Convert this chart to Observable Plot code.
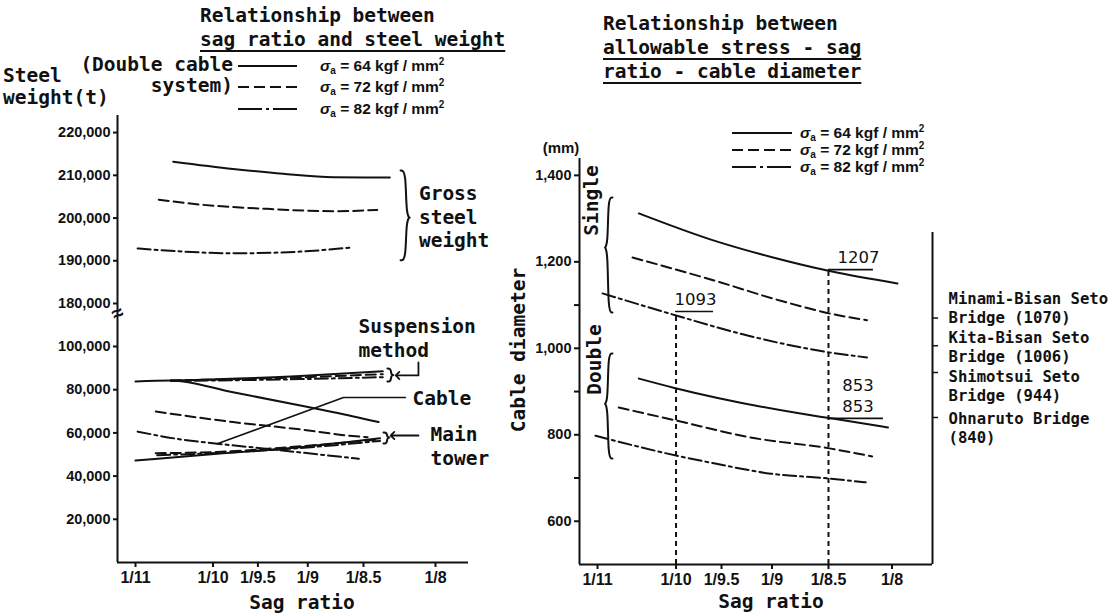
<!DOCTYPE html>
<html><head><meta charset="utf-8">
<script src="https://cdn.jsdelivr.net/npm/d3@7"></script>
<script src="https://cdn.jsdelivr.net/npm/@observablehq/plot@0.6"></script>
<style>
html,body{margin:0;padding:0;background:#fff;}
#root{position:relative;width:1116px;height:614px;overflow:hidden;background:#fff;color:#111;}
.abs{position:absolute;white-space:pre;}
.mono{font-family:"DejaVu Sans Mono",monospace;font-size:19.5px;font-weight:bold;line-height:24px;}
.sans{font-family:"Liberation Sans",Arial,sans-serif;font-weight:bold;font-size:15px;line-height:20px;}
.leg{font-family:"Liberation Sans",Arial,sans-serif;font-weight:bold;font-size:15.5px;line-height:20px;}
.leg sub{font-size:10px;vertical-align:-3px;line-height:0;}
.leg sup{font-size:10px;vertical-align:6px;line-height:0;}
.u{text-decoration:underline;text-decoration-thickness:2px;text-underline-offset:4px;}
</style></head>
<body><div id="root"></div>
<script>
// ---------- data ----------
const sagTicks = [11, 10, 9.5, 9, 8.5, 8];
const sagTickLabels = ["1/11", "1/10", "1/9.5", "1/9", "1/8.5", "1/8"];
const stressLevels = ["64", "72", "82"];           // allowable stress, kgf/mm²
const weightTicks = [20000, 40000, 60000, 80000, 100000, 180000, 190000, 200000, 210000, 220000];
const diameterTicks = [600, 800, 1000, 1200, 1400];
const diameterMinorTicks = [700, 900, 1100];

// Left panel: [sag ratio denominator, steel weight (t)]
const gross64 = [[10.49, 213200], [9.77, 211500], [9.24, 210350], [8.76, 209550], [8.31, 209500]];
const gross72 = [[10.68, 204300], [10.15, 203150], [9.40, 202150], [8.76, 201600], [8.40, 201900]];
const gross82 = [[10.97, 192900], [10.36, 192150], [9.77, 191750], [9.07, 192150], [8.59, 193150]];
const susp64 = [[10.52, 84300], [9.07, 86300], [8.36, 88500]];
const susp72 = [[10.52, 84300], [9.07, 85700], [8.36, 87200]];
const susp82 = [[10.52, 84000], [9.07, 84900], [8.36, 85800]];
const cable64 = [[11.0, 83800], [10.52, 84300], [9.77, 78800], [9.07, 72700], [8.76, 69600], [8.39, 65000]];
const cable72 = [[10.72, 69900], [9.77, 65000], [9.07, 61600], [8.64, 58800], [8.47, 58000]];
const cable82 = [[10.97, 60600], [10.36, 56800], [9.95, 55000], [9.40, 52600], [8.54, 48000]];
const tower64 = [[11.0, 47200], [9.95, 50300], [9.07, 53400], [8.38, 57500]];
const tower72 = [[10.72, 50600], [9.95, 51200], [9.07, 53800], [8.38, 57000]];
const tower82 = [[10.70, 49700], [9.95, 50700], [9.07, 53000], [8.38, 56300]];

// Right panel: [sag ratio denominator, cable diameter (mm)]
const single64 = [[10.45, 1312], [9.62, 1252], [8.99, 1210], [8.48, 1178], [7.96, 1150]];
const single72 = [[10.53, 1210], [9.58, 1157], [8.92, 1110], [8.48, 1080], [8.19, 1065]];
const single82 = [[10.93, 1127], [10.0, 1076], [9.31, 1034], [8.48, 990], [8.19, 979]];
const double64 = [[10.45, 930], [10.03, 909], [8.74, 849], [8.48, 838], [8.03, 817]];
const double72 = [[10.71, 863], [10.0, 833], [9.21, 794], [8.48, 768], [8.15, 750]];
const double82 = [[11.03, 798], [10.0, 752], [9.58, 734], [9.01, 710], [8.5, 699], [8.20, 690]];

const bridgeNames = ["Minami-Bisan Seto\nBridge (1070)", "Kita-Bisan Seto\nBridge (1006)", "Shimotsui Seto\nBridge (944)", "Ohnaruto Bridge\n(840)"];
const bridgeDiameters = [1070, 1006, 944, 840];
const refSag = [10, 8.5];
const refTop = [1085, 1182];
const refLabels = ["1093", "1207", "853", "853"];

// ---------- helpers ----------
const inv = n => 1 / n;
const dashes = {"64": null, "72": "10,5", "82": "13,4,3,4"};
const INK = "#111";
function rows(arr, group, stress) { return arr.map(([sag, value]) => ({group, stress, sag, value})); }
function sagLabel(v) {
  let best = 0;
  sagTicks.forEach((n, i) => { if (Math.abs(1 / n - v) < Math.abs(1 / sagTicks[best] - v)) best = i; });
  return sagTickLabels[best];
}
function seriesMarks(data) {
  return stressLevels.map(s => Plot.line(data.filter(d => d.stress === s), {
    x: d => inv(d.sag), y: "value", z: "group", curve: "monotone-x",
    stroke: INK, strokeWidth: 2, strokeDasharray: dashes[s] ?? undefined
  }));
}
function brace(b, id) {
  const v0 = 1 / b.n0, vt = 1 / b.nTip, vm = (v0 + vt) / 2;
  return [[v0, b.y1], [vm, b.y1], [vm, b.yTip], [vt, b.yTip], [vm, b.yTip], [vm, b.y2], [v0, b.y2]]
    .map(([x, y]) => ({id, x, y}));
}
function braceMark(list) {
  const pts = list.flatMap((b, i) => brace(b, i));
  return Plot.line(pts, {x: "x", y: "y", z: "id", curve: "basis", stroke: INK, strokeWidth: 2});
}

const root = document.getElementById("root");
function label(text, x, cy, {cls = "mono", align = "left", underline = false, rotate = 0, html = false} = {}) {
  const d = document.createElement("div");
  d.className = "abs " + cls + (underline ? " u" : "");
  if (html) d.innerHTML = text; else d.textContent = text;
  d.style.left = x + "px";
  d.style.top = cy + "px";
  const tx = align === "left" ? "0" : align === "center" ? "-50%" : "-100%";
  d.style.transform = `translate(${tx}, -50%)` + (rotate ? ` rotate(${rotate}deg)` : "");
  root.appendChild(d);
}
function swatch(x, cy, w, dash) {
  const ns = "http://www.w3.org/2000/svg";
  const s = document.createElementNS(ns, "svg");
  s.setAttribute("width", w); s.setAttribute("height", 6);
  s.style.position = "absolute"; s.style.left = x + "px"; s.style.top = (cy - 3) + "px";
  const l = document.createElementNS(ns, "line");
  l.setAttribute("x1", 0); l.setAttribute("x2", w); l.setAttribute("y1", 3); l.setAttribute("y2", 3);
  l.setAttribute("stroke", INK); l.setAttribute("stroke-width", 2);
  if (dash) l.setAttribute("stroke-dasharray", dash);
  s.appendChild(l); root.appendChild(s);
}
const legendDash = {"64": null, "72": "11,5", "82": "24,4,3,4"};
const legendText = s => `<i>σ</i><sub>a</sub> = ${s} kgf / mm<sup>2</sup>`;
const monoFont = {fontFamily: "DejaVu Sans Mono", fontWeight: "bold"};

// ---------- left panel ----------
const leftRows = [
  ...rows(gross64, "gross", "64"), ...rows(gross72, "gross", "72"), ...rows(gross82, "gross", "82"),
  ...rows(cable64, "cable", "64"), ...rows(cable72, "cable", "72"), ...rows(cable82, "cable", "82"),
  ...rows(tower64, "tower", "64"), ...rows(tower72, "tower", "72"), ...rows(tower82, "tower", "82"),
  ...rows(susp64, "susp", "64"), ...rows(susp72, "susp", "72"), ...rows(susp82, "susp", "82")
];
const xMinL = 0.088798, xMaxL = 0.12837;
const leftNotes = [
  {n: 8.11, v: 200400, t: "Gross\nsteel\nweight"},
  {n: 8.543, v: 116700, t: "Suspension\nmethod"},
  {n: 8.153, v: 76400, t: "Cable"},
  {n: 8.033, v: 54200, t: "Main\ntower"}
];
const leftBraces = [
  {n0: 8.235, nTip: 8.16, y1: 211100, y2: 190100, yTip: 200100},
  {n0: 8.327, nTip: 8.277, y1: 89800, y2: 83800, yTip: 86800},
  {n0: 8.355, nTip: 8.305, y1: 60200, y2: 55100, yTip: 57900}
];
const cableLeader = [[8.201, 76400], [8.673, 76400], [9.95, 54950]].map(([n, v]) => ({n, v}));
const suspArrow = [[8.113, 92600], [8.113, 86600], [8.256, 86600]].map(([n, v]) => ({n, v}));
const towerArrow = [[8.113, 58800], [8.291, 58800]].map(([n, v]) => ({n, v}));

const leftPlot = Plot.plot({
  width: 500, height: 614,
  marginLeft: 117, marginRight: 32, marginTop: 115, marginBottom: 52,
  style: {background: "transparent", fontFamily: "'Liberation Sans', Arial, sans-serif", fontSize: "14px", fontWeight: "bold", color: INK},
  x: {type: "linear", domain: [xMinL, 1 / 11, 1 / 8.5, 1 / 8, xMaxL], range: [117, 135, 363, 435, 468]},
  y: {type: "linear", domain: [0, 100000, 180000, 224000], range: [562, 346, 303, 115]},
  marks: [
    Plot.ruleX([xMinL], {y1: 0, y2: 224000, stroke: INK, strokeWidth: 2}),
    Plot.ruleY([0], {x1: xMinL, x2: xMaxL, stroke: INK, strokeWidth: 2}),
    Plot.axisY({ticks: weightTicks, tickFormat: d3.format(","), tickSize: 4, tickPadding: 3, label: null, fontSize: 14.5, strokeWidth: 2}),
    Plot.axisX({ticks: sagTicks.map(inv), tickFormat: sagLabel, tickSize: 5, tickPadding: 4, label: null, fontSize: 16, strokeWidth: 2}),
    Plot.text(["≈"], {x: xMinL, y: 161400, text: d => d, fontSize: 20, fontWeight: "bold", rotate: -25}),
    ...seriesMarks(leftRows),
    braceMark(leftBraces),
    Plot.line(cableLeader, {x: d => inv(d.n), y: "v", stroke: INK, strokeWidth: 1.6}),
    Plot.line(suspArrow, {x: d => inv(d.n), y: "v", stroke: INK, strokeWidth: 1.8, markerEnd: "arrow"}),
    Plot.line(towerArrow, {x: d => inv(d.n), y: "v", stroke: INK, strokeWidth: 1.8, markerEnd: "arrow"}),
    Plot.text(leftNotes, {x: d => inv(d.n), y: "v", text: "t", textAnchor: "start", lineAnchor: "middle", lineHeight: 1.2, fontSize: 19.5, fill: INK, ...monoFont})
  ]
});
leftPlot.style.position = "absolute"; leftPlot.style.left = "0px"; leftPlot.style.top = "0px";
root.appendChild(leftPlot);

// ---------- right panel ----------
const rightRows = [
  ...rows(single64, "single", "64"), ...rows(single72, "single", "72"), ...rows(single82, "single", "82"),
  ...rows(double64, "double", "64"), ...rows(double72, "double", "72"), ...rows(double82, "double", "82")
];
const xMinR = 0.088825, xMaxR = 0.129687;
const rightBraces = [
  {n0: 10.794, nTip: 10.917, y1: 1349, y2: 1083, yTip: 1233},
  {n0: 10.794, nTip: 10.917, y1: 988, y2: 745, yTip: 872}
];
const groupNotes = [{n: 11.075, v: 1342, t: "Single"}, {n: 11.04, v: 974, t: "Double"}];
const refNotes = [
  {n: 9.78, v: 1113, t: refLabels[0]},
  {n: 8.256, v: 1210, t: refLabels[1]},
  {n: 8.26, v: 914, t: refLabels[2]},
  {n: 8.26, v: 864, t: refLabels[3]}
];
const refUnderlines = [
  {n1: 10.0, n2: 9.584, v: 1085},
  {n1: 8.5, n2: 8.14, v: 1182},
  {n1: 8.5, n2: 8.064, v: 838}
];
const bridgeLabelDy = [-11, 1, 13, 10];
const bridgeRows = bridgeNames.map((t, i) => ({t, v: bridgeDiameters[i]}));

const rightPlot = Plot.plot({
  width: 616, height: 614,
  marginLeft: 79, marginRight: 184, marginTop: 158, marginBottom: 50,
  style: {background: "transparent", fontFamily: "'Liberation Sans', Arial, sans-serif", fontSize: "14px", fontWeight: "bold", color: INK},
  x: {type: "linear", domain: [xMinR, xMaxR], range: [79, 432]},
  y: {type: "linear", domain: [500, 1439], range: [564, 158]},
  marks: [
    Plot.ruleX([xMinR], {y1: 500, y2: 1439, stroke: INK, strokeWidth: 2}),
    Plot.ruleY([500], {x1: xMinR, x2: xMaxR, stroke: INK, strokeWidth: 2}),
    Plot.ruleX([xMaxR], {y1: 500, y2: 1268, stroke: INK, strokeWidth: 2}),
    Plot.ruleY(bridgeDiameters, {x1: xMaxR, x2: xMaxR + 0.0007, stroke: INK, strokeWidth: 1.5}),
    Plot.axisY({ticks: diameterTicks, tickFormat: d3.format(","), tickSize: 5, tickPadding: 3, label: null, fontSize: 14.5, strokeWidth: 2}),
    Plot.axisY({ticks: diameterMinorTicks, tickFormat: () => "", tickSize: 5, label: null, strokeWidth: 2}),
    Plot.axisX({ticks: sagTicks.map(inv), tickFormat: sagLabel, tickSize: 5, tickPadding: 4, label: null, fontSize: 16, strokeWidth: 2}),
    Plot.ruleX(refSag.map((n, i) => ({n, top: refTop[i]})), {x: d => inv(d.n), y1: 500, y2: "top", stroke: INK, strokeWidth: 2, strokeDasharray: "5,4"}),
    ...seriesMarks(rightRows),
    braceMark(rightBraces),
    Plot.ruleY(refUnderlines, {x1: d => inv(d.n1), x2: d => inv(d.n2), y: "v", stroke: INK, strokeWidth: 1.6}),
    Plot.text(refNotes, {x: d => inv(d.n), y: "v", text: "t", fontFamily: "DejaVu Sans", fontWeight: "normal", fontSize: 16.5, fill: INK}),
    Plot.text(groupNotes, {x: d => inv(d.n), y: "v", text: "t", rotate: -90, fontSize: 19.5, fill: INK, ...monoFont}),
    Plot.text(bridgeRows, {x: xMaxR, y: "v", text: "t", textAnchor: "start", dx: 16, lineAnchor: "middle", lineHeight: 1.22, fontSize: 15.6, fill: INK, ...monoFont})
  ]
});
rightPlot.style.position = "absolute"; rightPlot.style.left = "500px"; rightPlot.style.top = "0px";
root.appendChild(rightPlot);
// per-label vertical offsets for the bridge captions
d3.select(rightPlot).selectAll("text").filter(function () { return bridgeNames.some(b => this.textContent.startsWith(b.split("\n")[0])); })
  .each(function (_, i) {
    const t = this.getAttribute("transform") || "";
    this.setAttribute("transform", t + ` translate(0,${bridgeLabelDy[i]})`);
  });

// ---------- titles, legends, axis titles ----------
label("Relationship between", 200, 16);
label("sag ratio and steel weight", 200, 40, {underline: true});
label("Relationship between", 603, 24);
label("allowable stress - sag", 603, 48, {underline: true});
label("ratio - cable diameter", 603, 72, {underline: true});

label("(Double cable", 233, 65, {align: "right"});
label("system)", 233, 86, {align: "right"});
label("Steel", 3, 76);
label("weight(t)", 3, 98);
const leftRowsY = [66, 87, 109];
stressLevels.forEach((s, i) => { swatch(238, leftRowsY[i], 59, legendDash[s]); label(legendText(s), 320, leftRowsY[i], {cls: "leg", html: true}); });
const rightRowsY = [133, 150, 167];
stressLevels.forEach((s, i) => { swatch(732, rightRowsY[i], 60, legendDash[s]); label(legendText(s), 800, rightRowsY[i], {cls: "leg", html: true}); });

label("Sag ratio", 302, 603, {align: "center"});
label("Sag ratio", 771, 602, {align: "center"});
label("Cable diameter", 519, 350, {align: "center", rotate: -90});
label("(mm)", 561, 148, {cls: "sans", align: "center"});
</script></body></html>
